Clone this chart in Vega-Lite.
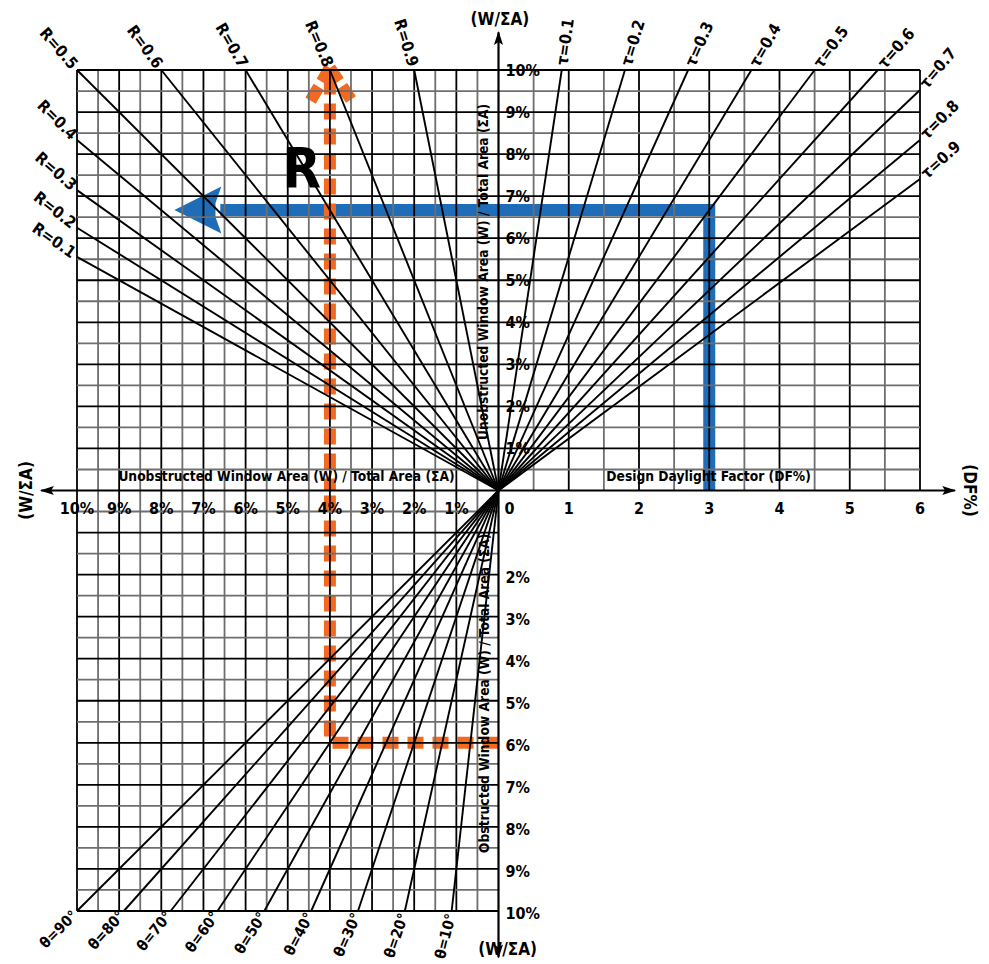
{
"$schema": "https://vega.github.io/schema/vega-lite/v6.json",
"width": 843,
"height": 841,
"autosize": {"type": "none"},
"padding": {"left": 77, "top": 70, "right": 69, "bottom": 53},
"background": "white",
"config": {
  "view": {"stroke": null},
  "text": {"font": "DejaVu Sans Condensed, Liberation Sans Narrow, sans-serif", "fontWeight": "bold", "fontSize": 16, "color": "#000000"}
},
"datasets": {
  "pctgrid": [
    {"v": 0.5, "k": "minor", "lo": 0, "hi": 10}, {"v": 1, "k": "major", "lo": 0, "hi": 10}, {"v": 1.5, "k": "minor", "lo": 0, "hi": 10}, {"v": 2, "k": "major", "lo": 0, "hi": 10},
    {"v": 2.5, "k": "minor", "lo": 0, "hi": 10}, {"v": 3, "k": "major", "lo": 0, "hi": 10}, {"v": 3.5, "k": "minor", "lo": 0, "hi": 10}, {"v": 4, "k": "major", "lo": 0, "hi": 10},
    {"v": 4.5, "k": "minor", "lo": 0, "hi": 10}, {"v": 5, "k": "major", "lo": 0, "hi": 10}, {"v": 5.5, "k": "minor", "lo": 0, "hi": 10}, {"v": 6, "k": "major", "lo": 0, "hi": 10},
    {"v": 6.5, "k": "minor", "lo": 0, "hi": 10}, {"v": 7, "k": "major", "lo": 0, "hi": 10}, {"v": 7.5, "k": "minor", "lo": 0, "hi": 10}, {"v": 8, "k": "major", "lo": 0, "hi": 10},
    {"v": 8.5, "k": "minor", "lo": 0, "hi": 10}, {"v": 9, "k": "major", "lo": 0, "hi": 10}, {"v": 9.5, "k": "minor", "lo": 0, "hi": 10}, {"v": 10, "k": "major", "lo": 0, "hi": 10}
  ],
  "dfgrid": [
    {"v": 0.5, "k": "minor", "lo": 0, "hi": 10}, {"v": 1, "k": "major", "lo": 0, "hi": 10}, {"v": 1.5, "k": "minor", "lo": 0, "hi": 10}, {"v": 2, "k": "major", "lo": 0, "hi": 10},
    {"v": 2.5, "k": "minor", "lo": 0, "hi": 10}, {"v": 3, "k": "major", "lo": 0, "hi": 10}, {"v": 3.5, "k": "minor", "lo": 0, "hi": 10}, {"v": 4, "k": "major", "lo": 0, "hi": 10},
    {"v": 4.5, "k": "minor", "lo": 0, "hi": 10}, {"v": 5, "k": "major", "lo": 0, "hi": 10}, {"v": 5.5, "k": "minor", "lo": 0, "hi": 10}, {"v": 6, "k": "major", "lo": 0, "hi": 10}
  ],
  "rlines": [
    {"R": 0.1, "t": "R=0.1", "p0": 0, "w0": 0, "p": 10, "w": 5.556},
    {"R": 0.2, "t": "R=0.2", "p0": 0, "w0": 0, "p": 10, "w": 6.25},
    {"R": 0.3, "t": "R=0.3", "p0": 0, "w0": 0, "p": 10, "w": 7.143},
    {"R": 0.4, "t": "R=0.4", "p0": 0, "w0": 0, "p": 10, "w": 8.333},
    {"R": 0.5, "t": "R=0.5", "p0": 0, "w0": 0, "p": 10, "w": 10},
    {"R": 0.6, "t": "R=0.6", "p0": 0, "w0": 0, "p": 8, "w": 10},
    {"R": 0.7, "t": "R=0.7", "p0": 0, "w0": 0, "p": 6, "w": 10},
    {"R": 0.8, "t": "R=0.8", "p0": 0, "w0": 0, "p": 4, "w": 10},
    {"R": 0.9, "t": "R=0.9", "p0": 0, "w0": 0, "p": 2, "w": 10}
  ],
  "taulines": [
    {"tau": 0.1, "t": "τ=0.1", "d0": 0, "w0": 0, "df": 0.9, "w": 10},
    {"tau": 0.2, "t": "τ=0.2", "d0": 0, "w0": 0, "df": 1.8, "w": 10},
    {"tau": 0.3, "t": "τ=0.3", "d0": 0, "w0": 0, "df": 2.7, "w": 10},
    {"tau": 0.4, "t": "τ=0.4", "d0": 0, "w0": 0, "df": 3.6, "w": 10},
    {"tau": 0.5, "t": "τ=0.5", "d0": 0, "w0": 0, "df": 4.5, "w": 10},
    {"tau": 0.6, "t": "τ=0.6", "d0": 0, "w0": 0, "df": 5.4, "w": 10},
    {"tau": 0.7, "t": "τ=0.7", "d0": 0, "w0": 0, "df": 6, "w": 9.524},
    {"tau": 0.8, "t": "τ=0.8", "d0": 0, "w0": 0, "df": 6, "w": 8.333},
    {"tau": 0.9, "t": "τ=0.9", "d0": 0, "w0": 0, "df": 6, "w": 7.407}
  ],
  "thetalines": [
    {"th": 10, "t": "θ=10°", "p0": 0, "o0": 0, "p": 1.111, "o": 10},
    {"th": 20, "t": "θ=20°", "p0": 0, "o0": 0, "p": 2.222, "o": 10},
    {"th": 30, "t": "θ=30°", "p0": 0, "o0": 0, "p": 3.333, "o": 10},
    {"th": 40, "t": "θ=40°", "p0": 0, "o0": 0, "p": 4.444, "o": 10},
    {"th": 50, "t": "θ=50°", "p0": 0, "o0": 0, "p": 5.556, "o": 10},
    {"th": 60, "t": "θ=60°", "p0": 0, "o0": 0, "p": 6.667, "o": 10},
    {"th": 70, "t": "θ=70°", "p0": 0, "o0": 0, "p": 7.778, "o": 10},
    {"th": 80, "t": "θ=80°", "p0": 0, "o0": 0, "p": 8.889, "o": 10},
    {"th": 90, "t": "θ=90°", "p0": 0, "o0": 0, "p": 10, "o": 10}
  ]
},
"resolve": {"scale": {"x": "independent", "y": "independent", "color": "independent", "angle": "independent", "shape": "independent"}},
"layer": [
  {
    "data": {"values": [{"i": 1, "df": 0, "w": 6.67}, {"i": 2, "df": 3, "w": 6.67}, {"i": 3, "df": 3, "w": 0}]},
    "mark": {"type": "line", "color": "#1f6db8", "strokeWidth": 12, "strokeJoin": "miter", "strokeCap": "butt"},
    "encoding": {
      "x": {"field": "df", "type": "quantitative", "scale": {"domain": [-6, 6], "nice": false, "zero": false}, "axis": null},
      "y": {"field": "w", "type": "quantitative", "scale": {"domain": [-10, 10], "nice": false, "zero": false}, "axis": null},
      "order": {"field": "i", "type": "quantitative"}
    }
  },
  {
    "data": {"values": [{"p0": 0, "p": 6.6, "w": 6.67}]},
    "mark": {"type": "rule", "color": "#1f6db8", "strokeWidth": 12},
    "encoding": {
      "x": {"field": "p0", "type": "quantitative", "scale": {"domain": [-10, 10], "reverse": true, "nice": false, "zero": false}, "axis": null},
      "x2": {"field": "p"},
      "y": {"field": "w", "type": "quantitative", "scale": {"domain": [-10, 10], "nice": false, "zero": false}, "axis": null}
    }
  },
  {
    "data": {"values": [{"p": 7.69, "w": 6.67}]},
    "mark": {"type": "point", "shape": "M0,0L2,-1L1.75,-0.3L1.75,0.3L2,1Z", "size": 2209, "filled": true, "color": "#1f6db8", "opacity": 1, "strokeWidth": 0},
    "encoding": {
      "x": {"field": "p", "type": "quantitative", "scale": {"domain": [-10, 10], "reverse": true, "nice": false, "zero": false}, "axis": null},
      "y": {"field": "w", "type": "quantitative", "scale": {"domain": [-10, 10], "nice": false, "zero": false}, "axis": null}
    }
  },
  {
    "data": {"values": [{"i": 1, "p": 0, "o": 6}, {"i": 2, "p": 4, "o": 6}, {"i": 3, "p": 4, "o": 0}]},
    "mark": {"type": "line", "color": "#f26a21", "strokeWidth": 12, "strokeDash": [16, 9], "strokeJoin": "miter"},
    "encoding": {
      "x": {"field": "p", "type": "quantitative", "scale": {"domain": [-10, 10], "reverse": true, "nice": false, "zero": false}, "axis": null},
      "y": {"field": "o", "type": "quantitative", "scale": {"domain": [-10, 10], "reverse": true, "nice": false, "zero": false}, "axis": null},
      "order": {"field": "i", "type": "quantitative"}
    }
  },
  {
    "data": {"values": [{"p": 4, "w0": 0, "w": 9.9}]},
    "mark": {"type": "rule", "color": "#f26a21", "strokeWidth": 12, "strokeDash": [16, 9], "strokeDashOffset": 4},
    "encoding": {
      "x": {"field": "p", "type": "quantitative", "scale": {"domain": [-10, 10], "reverse": true, "nice": false, "zero": false}, "axis": null},
      "y": {"field": "w0", "type": "quantitative", "scale": {"domain": [-10, 10], "nice": false, "zero": false}, "axis": null},
      "y2": {"field": "w"}
    }
  },
  {
    "data": {"values": [{"p0": 4, "w0": 10.05, "p": 4.5, "w": 9.2}, {"p0": 4, "w0": 10.05, "p": 3.47, "w": 9.25}]},
    "mark": {"type": "rule", "color": "#f26a21", "strokeWidth": 12, "strokeDash": [16, 6]},
    "encoding": {
      "x": {"field": "p0", "type": "quantitative", "scale": {"domain": [-10, 10], "reverse": true, "nice": false, "zero": false}, "axis": null},
      "x2": {"field": "p"},
      "y": {"field": "w0", "type": "quantitative", "scale": {"domain": [-10, 10], "nice": false, "zero": false}, "axis": null},
      "y2": {"field": "w"}
    }
  },
  {
    "data": {"name": "pctgrid"},
    "mark": {"type": "rule", "strokeWidth": 1.8},
    "encoding": {
      "x": {"field": "v", "type": "quantitative", "scale": {"domain": [-10, 10], "reverse": true, "nice": false, "zero": false}, "axis": null},
      "color": {"field": "k", "type": "nominal", "scale": {"domain": ["major", "minor"], "range": ["#000000", "#6e6e6e"]}, "legend": null}
    }
  },
  {
    "data": {"name": "dfgrid"},
    "mark": {"type": "rule", "strokeWidth": 1.8},
    "encoding": {
      "x": {"field": "v", "type": "quantitative", "scale": {"domain": [-6, 6], "nice": false, "zero": false}, "axis": null},
      "y": {"field": "lo", "type": "quantitative", "scale": {"domain": [-10, 10], "nice": false, "zero": false}, "axis": null},
      "y2": {"field": "hi"},
      "color": {"field": "k", "type": "nominal", "scale": {"domain": ["major", "minor"], "range": ["#000000", "#6e6e6e"]}, "legend": null}
    }
  },
  {
    "data": {"name": "pctgrid"},
    "mark": {"type": "rule", "strokeWidth": 1.8},
    "encoding": {
      "y": {"field": "v", "type": "quantitative", "scale": {"domain": [-10, 10], "nice": false, "zero": false}, "axis": null},
      "color": {"field": "k", "type": "nominal", "scale": {"domain": ["major", "minor"], "range": ["#000000", "#6e6e6e"]}, "legend": null}
    }
  },
  {
    "data": {"name": "pctgrid"},
    "mark": {"type": "rule", "strokeWidth": 1.8},
    "encoding": {
      "y": {"field": "v", "type": "quantitative", "scale": {"domain": [-10, 10], "reverse": true, "nice": false, "zero": false}, "axis": null},
      "x": {"field": "lo", "type": "quantitative", "scale": {"domain": [-10, 10], "reverse": true, "nice": false, "zero": false}, "axis": null},
      "x2": {"field": "hi"},
      "color": {"field": "k", "type": "nominal", "scale": {"domain": ["major", "minor"], "range": ["#000000", "#6e6e6e"]}, "legend": null}
    }
  },
  {
    "data": {"values": [{"a": 10.85, "b": -10.83, "y": 0}]},
    "mark": {"type": "rule", "color": "#000000", "strokeWidth": 2.2},
    "encoding": {
      "x": {"field": "a", "type": "quantitative", "scale": {"domain": [-10, 10], "reverse": true, "nice": false, "zero": false}, "axis": null},
      "x2": {"field": "b"},
      "y": {"field": "y", "type": "quantitative", "scale": {"domain": [-10, 10], "nice": false, "zero": false}, "axis": null}
    }
  },
  {
    "data": {"values": [{"x": 0, "a": 10.9, "b": -11.1}]},
    "mark": {"type": "rule", "color": "#000000", "strokeWidth": 2.2},
    "encoding": {
      "x": {"field": "x", "type": "quantitative", "scale": {"domain": [-10, 10], "reverse": true, "nice": false, "zero": false}, "axis": null},
      "y": {"field": "a", "type": "quantitative", "scale": {"domain": [-10, 10], "nice": false, "zero": false}, "axis": null},
      "y2": {"field": "b"}
    }
  },
  {
    "data": {"values": [{"d": "left", "x": 10.88, "y": 0}, {"d": "right", "x": -10.86, "y": 0}, {"d": "up", "x": 0, "y": 10.93}, {"d": "down", "x": 0, "y": -11.13}]},
    "mark": {"type": "point", "size": 196, "filled": true, "color": "#000000", "opacity": 1, "strokeWidth": 0},
    "encoding": {
      "x": {"field": "x", "type": "quantitative", "scale": {"domain": [-10, 10], "reverse": true, "nice": false, "zero": false}, "axis": null},
      "y": {"field": "y", "type": "quantitative", "scale": {"domain": [-10, 10], "nice": false, "zero": false}, "axis": null},
      "shape": {"field": "d", "type": "nominal", "scale": {"domain": ["left", "right", "up", "down"], "range": ["M0,0L2,-0.65L1.6,0L2,0.65Z", "M0,0L-2,-0.65L-1.6,0L-2,0.65Z", "M0,0L-0.65,2L0,1.6L0.65,2Z", "M0,0L-0.65,-2L0,-1.6L0.65,-2Z"]}, "legend": null}
    }
  },
  {
    "data": {"values": [{"v": 1, "z": 0, "t": "1%"}, {"v": 2, "z": 0, "t": "2%"}, {"v": 3, "z": 0, "t": "3%"}, {"v": 4, "z": 0, "t": "4%"}, {"v": 5, "z": 0, "t": "5%"}, {"v": 6, "z": 0, "t": "6%"}, {"v": 7, "z": 0, "t": "7%"}, {"v": 8, "z": 0, "t": "8%"}, {"v": 9, "z": 0, "t": "9%"}, {"v": 10, "z": 0, "t": "10%"}]},
    "mark": {"type": "text", "align": "left", "baseline": "middle", "dx": 7, "dy": 1},
    "encoding": {
      "x": {"field": "z", "type": "quantitative", "scale": {"domain": [-6, 6], "nice": false, "zero": false}, "axis": null},
      "y": {"field": "v", "type": "quantitative", "scale": {"domain": [-10, 10], "nice": false, "zero": false}, "axis": null},
      "text": {"field": "t", "type": "nominal"}
    }
  },
  {
    "data": {"values": [{"v": 2, "z": 0, "t": "2%"}, {"v": 3, "z": 0, "t": "3%"}, {"v": 4, "z": 0, "t": "4%"}, {"v": 5, "z": 0, "t": "5%"}, {"v": 6, "z": 0, "t": "6%"}, {"v": 7, "z": 0, "t": "7%"}, {"v": 8, "z": 0, "t": "8%"}, {"v": 9, "z": 0, "t": "9%"}, {"v": 10, "z": 0, "t": "10%"}]},
    "mark": {"type": "text", "align": "left", "baseline": "middle", "dx": 7, "dy": 3},
    "encoding": {
      "x": {"field": "z", "type": "quantitative", "scale": {"domain": [-6, 6], "nice": false, "zero": false}, "axis": null},
      "y": {"field": "v", "type": "quantitative", "scale": {"domain": [-10, 10], "reverse": true, "nice": false, "zero": false}, "axis": null},
      "text": {"field": "t", "type": "nominal"}
    }
  },
  {
    "data": {"values": [{"v": 1, "z": 0, "t": "1%"}, {"v": 2, "z": 0, "t": "2%"}, {"v": 3, "z": 0, "t": "3%"}, {"v": 4, "z": 0, "t": "4%"}, {"v": 5, "z": 0, "t": "5%"}, {"v": 6, "z": 0, "t": "6%"}, {"v": 7, "z": 0, "t": "7%"}, {"v": 8, "z": 0, "t": "8%"}, {"v": 9, "z": 0, "t": "9%"}, {"v": 10, "z": 0, "t": "10%"}]},
    "mark": {"type": "text", "align": "center", "baseline": "middle", "dy": 18},
    "encoding": {
      "x": {"field": "v", "type": "quantitative", "scale": {"domain": [-10, 10], "reverse": true, "nice": false, "zero": false}, "axis": null},
      "y": {"field": "z", "type": "quantitative", "scale": {"domain": [-10, 10], "nice": false, "zero": false}, "axis": null},
      "text": {"field": "t", "type": "nominal"}
    }
  },
  {
    "data": {"values": [{"v": 1, "z": 0, "t": "1"}, {"v": 2, "z": 0, "t": "2"}, {"v": 3, "z": 0, "t": "3"}, {"v": 4, "z": 0, "t": "4"}, {"v": 5, "z": 0, "t": "5"}, {"v": 6, "z": 0, "t": "6"}]},
    "mark": {"type": "text", "align": "center", "baseline": "middle", "dy": 18},
    "encoding": {
      "x": {"field": "v", "type": "quantitative", "scale": {"domain": [-6, 6], "nice": false, "zero": false}, "axis": null},
      "y": {"field": "z", "type": "quantitative", "scale": {"domain": [-10, 10], "nice": false, "zero": false}, "axis": null},
      "text": {"field": "t", "type": "nominal"}
    }
  },
  {
    "data": {"values": [{"v": 0, "z": 0, "t": "0"}]},
    "mark": {"type": "text", "align": "center", "baseline": "middle", "dy": 18, "dx": 11},
    "encoding": {
      "x": {"field": "v", "type": "quantitative", "scale": {"domain": [-6, 6], "nice": false, "zero": false}, "axis": null},
      "y": {"field": "z", "type": "quantitative", "scale": {"domain": [-10, 10], "nice": false, "zero": false}, "axis": null},
      "text": {"field": "t", "type": "nominal"}
    }
  },
  {
    "data": {"values": [{"p": 5.03, "w": 0.33, "t": "Unobstructed Window Area (W) / Total Area (ΣA)"}]},
    "mark": {"type": "text", "align": "center", "baseline": "middle", "fontSize": 13.7},
    "encoding": {
      "x": {"field": "p", "type": "quantitative", "scale": {"domain": [-10, 10], "reverse": true, "nice": false, "zero": false}, "axis": null},
      "y": {"field": "w", "type": "quantitative", "scale": {"domain": [-10, 10], "nice": false, "zero": false}, "axis": null},
      "text": {"field": "t", "type": "nominal"}
    }
  },
  {
    "data": {"values": [{"df": 2.99, "w": 0.33, "t": "Design Daylight Factor (DF%)"}]},
    "mark": {"type": "text", "align": "center", "baseline": "middle", "fontSize": 13.7},
    "encoding": {
      "x": {"field": "df", "type": "quantitative", "scale": {"domain": [-6, 6], "nice": false, "zero": false}, "axis": null},
      "y": {"field": "w", "type": "quantitative", "scale": {"domain": [-10, 10], "nice": false, "zero": false}, "axis": null},
      "text": {"field": "t", "type": "nominal"}
    }
  },
  {
    "data": {"values": [{"df": 0.02, "w": 11.19, "t": "(W/ΣA)"}]},
    "mark": {"type": "text", "align": "center", "baseline": "middle", "fontSize": 17},
    "encoding": {
      "x": {"field": "df", "type": "quantitative", "scale": {"domain": [-6, 6], "nice": false, "zero": false}, "axis": null},
      "y": {"field": "w", "type": "quantitative", "scale": {"domain": [-10, 10], "nice": false, "zero": false}, "axis": null},
      "text": {"field": "t", "type": "nominal"}
    }
  },
  {
    "data": {"values": [{"df": 6.7, "w": 0, "t": "(DF%)"}]},
    "mark": {"type": "text", "align": "center", "baseline": "middle", "angle": 90, "fontSize": 17},
    "encoding": {
      "x": {"field": "df", "type": "quantitative", "scale": {"domain": [-6, 6], "nice": false, "zero": false}, "axis": null},
      "y": {"field": "w", "type": "quantitative", "scale": {"domain": [-10, 10], "nice": false, "zero": false}, "axis": null},
      "text": {"field": "t", "type": "nominal"}
    }
  },
  {
    "data": {"values": [{"df": -0.2, "w": 1.2, "t": "Unobstructed Window Area (W) / Total Area (ΣA)"}]},
    "mark": {"type": "text", "align": "left", "baseline": "middle", "angle": 270, "fontSize": 13.7},
    "encoding": {
      "x": {"field": "df", "type": "quantitative", "scale": {"domain": [-6, 6], "nice": false, "zero": false}, "axis": null},
      "y": {"field": "w", "type": "quantitative", "scale": {"domain": [-10, 10], "nice": false, "zero": false}, "axis": null},
      "text": {"field": "t", "type": "nominal"}
    }
  },
  {
    "data": {"values": [{"df": -0.19, "o": 8.62, "t": "Obstructed Window Area (W) / Total Area (ΣA)"}]},
    "mark": {"type": "text", "align": "left", "baseline": "middle", "angle": 270, "fontSize": 13.7},
    "encoding": {
      "x": {"field": "df", "type": "quantitative", "scale": {"domain": [-6, 6], "nice": false, "zero": false}, "axis": null},
      "y": {"field": "o", "type": "quantitative", "scale": {"domain": [-10, 10], "reverse": true, "nice": false, "zero": false}, "axis": null},
      "text": {"field": "t", "type": "nominal"}
    }
  },
  {
    "data": {"values": [{"df": 0.13, "o": 10.93, "t": "(W/ΣA)"}]},
    "mark": {"type": "text", "align": "center", "baseline": "middle", "fontSize": 17},
    "encoding": {
      "x": {"field": "df", "type": "quantitative", "scale": {"domain": [-6, 6], "nice": false, "zero": false}, "axis": null},
      "y": {"field": "o", "type": "quantitative", "scale": {"domain": [-10, 10], "reverse": true, "nice": false, "zero": false}, "axis": null},
      "text": {"field": "t", "type": "nominal"}
    }
  },
  {
    "data": {"values": [{"p": 11.18, "w": 0, "t": "(W/ΣA)"}]},
    "mark": {"type": "text", "align": "center", "baseline": "middle", "angle": 270, "fontSize": 17},
    "encoding": {
      "x": {"field": "p", "type": "quantitative", "scale": {"domain": [-10, 10], "reverse": true, "nice": false, "zero": false}, "axis": null},
      "y": {"field": "w", "type": "quantitative", "scale": {"domain": [-10, 10], "nice": false, "zero": false}, "axis": null},
      "text": {"field": "t", "type": "nominal"}
    }
  },
  {
    "data": {"name": "rlines"},
    "mark": {"type": "rule", "color": "#000000", "strokeWidth": 1.9},
    "encoding": {
      "x": {"field": "p0", "type": "quantitative", "scale": {"domain": [-10, 10], "reverse": true, "nice": false, "zero": false}, "axis": null},
      "x2": {"field": "p"},
      "y": {"field": "w0", "type": "quantitative", "scale": {"domain": [-10, 10], "nice": false, "zero": false}, "axis": null},
      "y2": {"field": "w"}
    }
  },
  {
    "data": {"name": "rlines"},
    "mark": {"type": "text", "align": "right", "baseline": "middle", "dx": -4, "fontSize": 16},
    "encoding": {
      "x": {"field": "p", "type": "quantitative", "scale": {"domain": [-10, 10], "reverse": true, "nice": false, "zero": false}, "axis": null},
      "y": {"field": "w", "type": "quantitative", "scale": {"domain": [-10, 10], "nice": false, "zero": false}, "axis": null},
      "angle": {"field": "R", "type": "quantitative", "scale": {"domain": [0.1, 0.2, 0.3, 0.4, 0.5, 0.6, 0.7, 0.8, 0.9], "range": [35, 38, 41, 45, 49, 54, 60, 67, 73]}, "legend": null},
      "text": {"field": "t", "type": "nominal"}
    }
  },
  {
    "data": {"name": "taulines"},
    "mark": {"type": "rule", "color": "#000000", "strokeWidth": 1.9},
    "encoding": {
      "x": {"field": "d0", "type": "quantitative", "scale": {"domain": [-6, 6], "nice": false, "zero": false}, "axis": null},
      "x2": {"field": "df"},
      "y": {"field": "w0", "type": "quantitative", "scale": {"domain": [-10, 10], "nice": false, "zero": false}, "axis": null},
      "y2": {"field": "w"}
    }
  },
  {
    "data": {"name": "taulines"},
    "mark": {"type": "text", "align": "left", "baseline": "middle", "dx": 5, "fontSize": 16},
    "encoding": {
      "x": {"field": "df", "type": "quantitative", "scale": {"domain": [-6, 6], "nice": false, "zero": false}, "axis": null},
      "y": {"field": "w", "type": "quantitative", "scale": {"domain": [-10, 10], "nice": false, "zero": false}, "axis": null},
      "angle": {"field": "tau", "type": "quantitative", "scale": {"domain": [0.1, 0.2, 0.3, 0.4, 0.5, 0.6, 0.7, 0.8, 0.9], "range": [-82, -73, -66, -60, -54, -49, -50, -45, -42]}, "legend": null},
      "text": {"field": "t", "type": "nominal"}
    }
  },
  {
    "data": {"name": "thetalines"},
    "mark": {"type": "rule", "color": "#000000", "strokeWidth": 1.9},
    "encoding": {
      "x": {"field": "p0", "type": "quantitative", "scale": {"domain": [-10, 10], "reverse": true, "nice": false, "zero": false}, "axis": null},
      "x2": {"field": "p"},
      "y": {"field": "o0", "type": "quantitative", "scale": {"domain": [-10, 10], "reverse": true, "nice": false, "zero": false}, "axis": null},
      "y2": {"field": "o"}
    }
  },
  {
    "data": {"name": "thetalines"},
    "mark": {"type": "text", "align": "right", "baseline": "middle", "dx": -3, "fontSize": 15},
    "encoding": {
      "x": {"field": "p", "type": "quantitative", "scale": {"domain": [-10, 10], "reverse": true, "nice": false, "zero": false}, "axis": null},
      "y": {"field": "o", "type": "quantitative", "scale": {"domain": [-10, 10], "reverse": true, "nice": false, "zero": false}, "axis": null},
      "angle": {"field": "th", "type": "quantitative", "scale": {"domain": [10, 20, 30, 40, 50, 60, 70, 80, 90], "range": [-76, -71, -66, -62, -58, -54, -51, -48, -45]}, "legend": null},
      "text": {"field": "t", "type": "nominal"}
    }
  },
  {
    "data": {"values": [{"p": 4.67, "w": 7.62, "t": "R"}]},
    "mark": {"type": "text", "align": "center", "baseline": "middle", "fontSize": 56},
    "encoding": {
      "x": {"field": "p", "type": "quantitative", "scale": {"domain": [-10, 10], "reverse": true, "nice": false, "zero": false}, "axis": null},
      "y": {"field": "w", "type": "quantitative", "scale": {"domain": [-10, 10], "nice": false, "zero": false}, "axis": null},
      "text": {"field": "t", "type": "nominal"}
    }
  }
]
}
